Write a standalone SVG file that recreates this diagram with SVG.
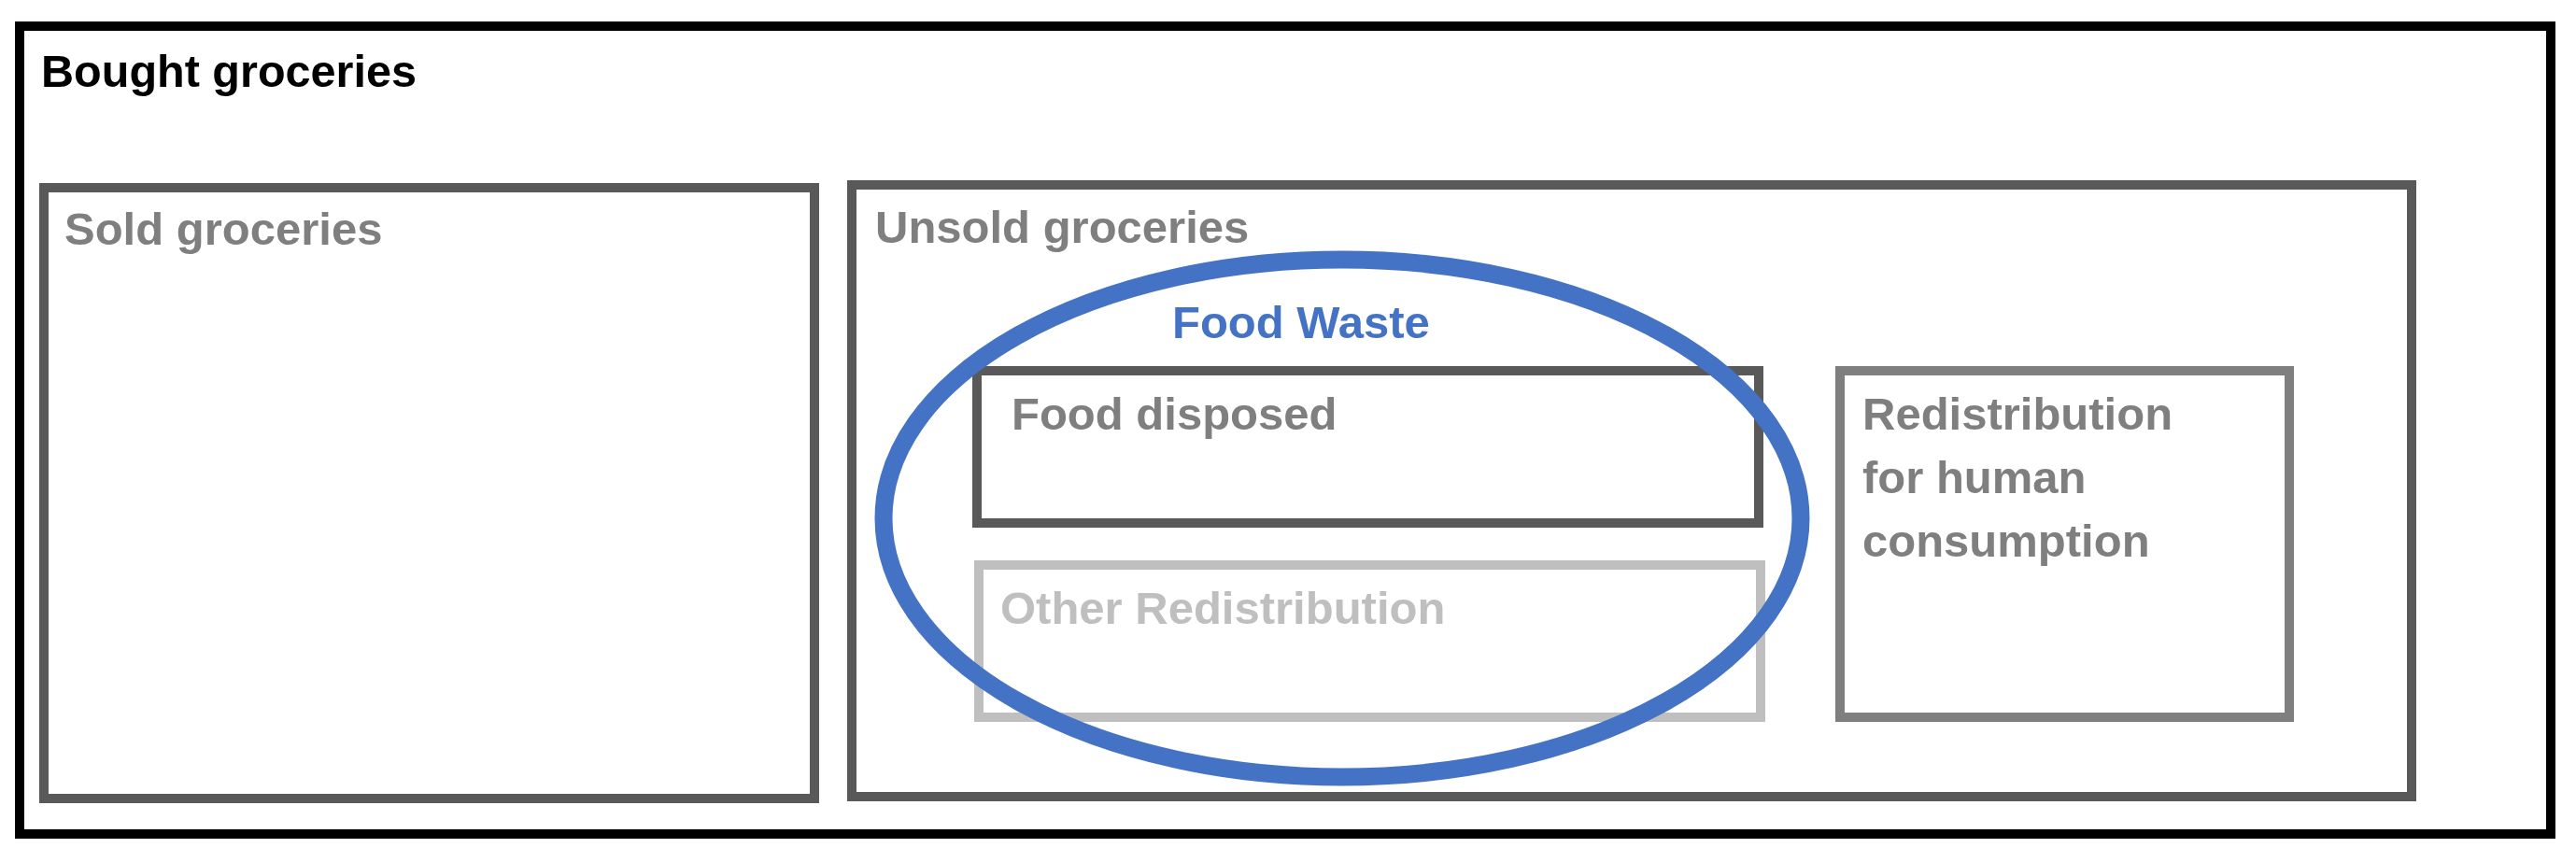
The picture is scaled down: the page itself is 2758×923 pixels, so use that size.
<svg xmlns="http://www.w3.org/2000/svg" width="2758" height="923" viewBox="0 0 2758 923">
<style>
text{font-family:"Liberation Sans",Arial,sans-serif;font-weight:bold;font-size:49px}
.box{fill:none;stroke-width:10}
.dark{stroke:#595959}
.mid{stroke:#7f7f7f}
.light{stroke:#bfbfbf}
.tg{fill:#7f7f7f}
</style>
<rect width="2758" height="923" fill="#ffffff"/>
<g id="bought">
<rect class="box" x="21" y="28" width="2710" height="865" stroke="#000000"/>
<text x="44" y="93" fill="#000000" textLength="402" lengthAdjust="spacingAndGlyphs">Bought groceries</text>
</g>
<g id="sold">
<rect class="box dark" x="47" y="201" width="825" height="654"/>
<text class="tg" x="69" y="262">Sold groceries</text>
</g>
<g id="unsold">
<rect class="box dark" x="912" y="198" width="1670" height="655"/>
<text class="tg" x="937" y="260">Unsold groceries</text>
</g>
<g id="food-disposed">
<rect class="box dark" x="1046" y="397" width="837" height="163"/>
<text class="tg" x="1083" y="460">Food disposed</text>
</g>
<g id="other-redistribution">
<rect class="box light" x="1048" y="605" width="837" height="163"/>
<text x="1071" y="668" fill="#bfbfbf">Other Redistribution</text>
</g>
<g id="redistribution-human">
<rect class="box mid" x="1970" y="397" width="481" height="371"/>
<text class="tg" x="1994" y="460">Redistribution</text>
<text class="tg" x="1994" y="528">for human</text>
<text class="tg" x="1994" y="596">consumption</text>
</g>
<g id="food-waste">
<ellipse cx="1437" cy="555" rx="491" ry="277" fill="none" stroke="#4472c4" stroke-width="19"/>
<text x="1255" y="362" fill="#4472c4">Food Waste</text>
</g>
<g id="connectors"></g>
</svg>
